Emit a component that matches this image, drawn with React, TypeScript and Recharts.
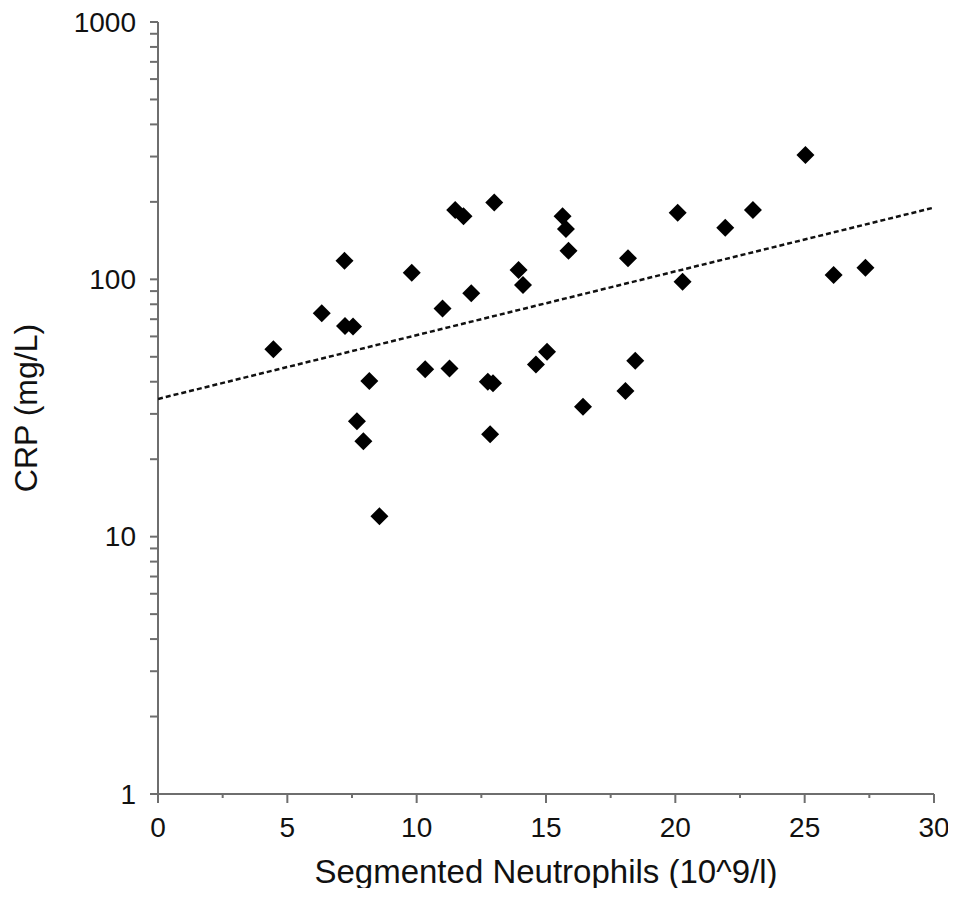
import React from 'react';
import { ScatterChart, Scatter, XAxis, YAxis, Label } from 'recharts';

// values
const neutrophils = [
  4.46, 6.33, 7.21, 7.23, 7.54, 7.69, 7.94, 8.17, 8.56, 9.81, 10.33, 11.0, 11.27, 11.49,
  11.81, 12.11, 12.75, 12.95, 12.84, 13.0, 13.94, 14.11, 14.61, 15.04, 15.64, 15.77, 15.87,
  16.43, 18.07, 18.17, 18.45, 20.09, 20.28, 21.93, 23.0, 25.03, 26.12, 27.35,
];
const crp = [
  53.5, 73.8, 118, 65.9, 65.5, 28.1, 23.5, 40.3, 12, 106, 44.7, 77.1, 45, 186,
  176, 88.2, 40, 39.5, 25, 199, 108.7, 95, 46.7, 52.3, 176, 157, 129,
  32, 36.8, 120.7, 48.3, 181.5, 97.9, 158.7, 186, 304, 103.9, 110.9,
];

// exponential trend line end points
const trendX = [0, 30];
const trendY = [34.3, 190];

const xTicks = [0, 2.5, 5, 7.5, 10, 12.5, 15, 17.5, 20, 22.5, 25, 27.5, 30];
const xMajor = [0, 5, 10, 15, 20, 25, 30];
const yTicks = [
  1, 2, 3, 4, 5, 6, 7, 8, 9,
  10, 20, 30, 40, 50, 60, 70, 80, 90,
  100, 200, 300, 400, 500, 600, 700, 800, 900,
  1000,
];
const yMajor = [1, 10, 100, 1000];

const points = neutrophils.map((x, i) => ({ x, y: crp[i] }));
const trend = trendX.map((x, i) => ({ x, y: trendY[i] }));

const AXIS = '#6e6e6e';
const FONT = '"Liberation Sans", Arial, sans-serif';

const YTick = ({ x, y, payload }: any) => {
  const major = yMajor.includes(payload.value);
  return (
    <g>
      <line x1={x - 8} x2={x} y1={y} y2={y} stroke={AXIS} strokeWidth={2} />
      {major && (
        <text x={x - 22} y={y} dy="0.35em" textAnchor="end" fontSize={28} fontFamily={FONT} fill="#111">
          {payload.value}
        </text>
      )}
    </g>
  );
};

const XTick = ({ x, y, payload }: any) => {
  const major = xMajor.includes(payload.value);
  return (
    <g>
      <line x1={x} x2={x} y1={y} y2={y + (major ? 9 : 4)} stroke={AXIS} strokeWidth={2} />
      {major && (
        <text x={x} y={y + 43} textAnchor="middle" fontSize={28} fontFamily={FONT} fill="#111">
          {payload.value}
        </text>
      )}
    </g>
  );
};

const Diamond = ({ cx, cy }: any) => (
  <path d={`M${cx},${cy - 9}L${cx + 9},${cy}L${cx},${cy + 9}L${cx - 9},${cy}Z`} fill="#000" />
);

export default function App() {
  return (
    <div style={{ width: 940, height: 880 }}>
      <ScatterChart width={948} height={888} margin={{ top: 14, right: 22, bottom: 0, left: 0 }}>
        <XAxis
          dataKey="x"
          type="number"
          domain={[0, 30]}
          ticks={xTicks}
          interval={0}
          allowDataOverflow
          height={102}
          tickSize={0}
          tickMargin={0}
          tickLine={false}
          tick={<XTick />}
          axisLine={{ stroke: AXIS, strokeWidth: 2 }}
        >
          <Label
            value="Segmented Neutrophils (10^9/l)"
            position="insideBottom"
            offset={13}
            style={{ fontSize: 33, fontFamily: FONT, fill: '#111' }}
          />
        </XAxis>
        <YAxis
          dataKey="y"
          type="number"
          scale="log"
          domain={[1, 1000]}
          ticks={yTicks}
          interval={0}
          allowDataOverflow
          width={150}
          tickSize={0}
          tickMargin={0}
          tickLine={false}
          tick={<YTick />}
          axisLine={{ stroke: AXIS, strokeWidth: 2 }}
        >
          <Label
            value="CRP (mg/L)"
            angle={-90}
            position="insideLeft"
            offset={18}
            style={{ fontSize: 32, fontFamily: FONT, fill: '#111', textAnchor: 'middle' }}
          />
        </YAxis>
        <Scatter
          data={trend}
          line={{ stroke: '#111', strokeWidth: 2.5, strokeDasharray: '5 3' }}
          shape={() => <g />}
          isAnimationActive={false}
        />
        <Scatter data={points} shape={<Diamond />} isAnimationActive={false} />
      </ScatterChart>
    </div>
  );
}
